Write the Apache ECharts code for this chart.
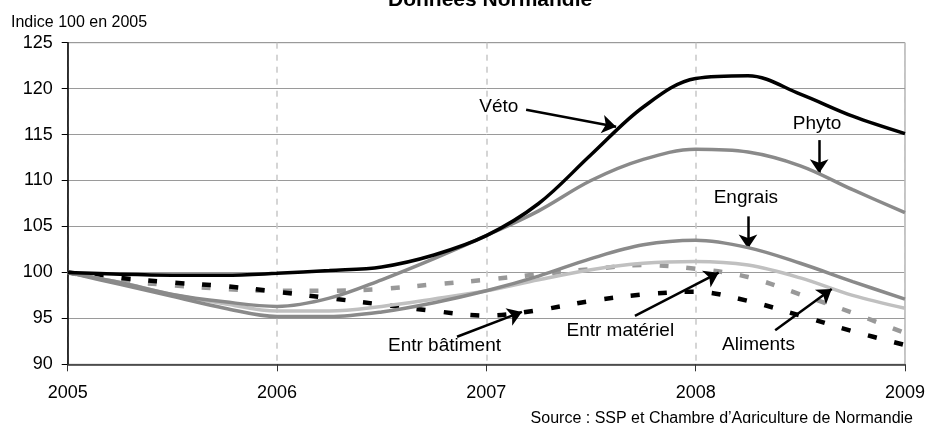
<!DOCTYPE html>
<html>
<head>
<meta charset="utf-8">
<script src="https://cdn.jsdelivr.net/npm/echarts@6/dist/echarts.min.js"></script>
<style>html,body{margin:0;padding:0;background:#fff;}#c{width:928px;height:423px;}</style>
</head>
<body>
<div id="c"></div>
<script>
// Quarterly points, 2005 to 2009 (index 100 in 2005)
var quarters = [2005, 2005.25, 2005.5, 2005.75, 2006, 2006.25, 2006.5, 2006.75, 2007, 2007.25, 2007.5, 2007.75, 2008, 2008.25, 2008.5, 2008.75, 2009];
var veto        = [100, 99.8, 99.7, 99.7, 99.9, 100.2, 100.6, 101.9, 104.0, 107.5, 112.8, 118.0, 121.1, 121.4, 119.4, 117.0, 115.1];
var phyto       = [100, 98.9, 97.6, 96.8, 96.3, 97.2, 99.2, 101.5, 104.0, 106.7, 110.0, 112.3, 113.4, 113.1, 111.6, 109.0, 106.5];
var engrais     = [100, 98.7, 97.4, 96.1, 95.2, 95.2, 95.7, 96.7, 98.0, 99.6, 101.5, 103.0, 103.5, 102.7, 101.0, 99.0, 97.1];
var aliments    = [100, 98.9, 97.6, 96.6, 95.8, 95.8, 96.3, 97.1, 98.0, 99.2, 100.3, 101.0, 101.2, 100.8, 99.4, 97.5, 96.1];
var entrMat     = [100, 99.1, 98.6, 98.2, 98.0, 98.0, 98.2, 98.7, 99.2, 99.8, 100.35, 100.8, 100.4, 99.5, 97.6, 95.6, 93.4];
var entrBat     = [100, 99.4, 98.9, 98.5, 97.9, 97.2, 96.5, 95.8, 95.3, 95.9, 96.9, 97.6, 97.9, 96.9, 95.3, 93.6, 92.1];
var yTicks = [90, 95, 100, 105, 110, 115, 120, 125];
var xTicks = [2005, 2006, 2007, 2008, 2009];

// Annotation labels and arrows (data units)
var annotations = [
  {text: 'Véto',          at: [2007.06, 118.0], from: [2007.19, 117.7], to: [2007.62, 115.85]},
  {text: 'Phyto',         at: [2008.58, 116.2], from: [2008.59, 114.4], to: [2008.59, 110.8]},
  {text: 'Engrais',       at: [2008.24, 108.1], from: [2008.25, 106.1], to: [2008.25, 102.6]},
  {text: 'Entr matériel', at: [2007.64, 93.7],  from: [2007.71, 95.26], to: [2008.11, 99.97]},
  {text: 'Aliments',      at: [2008.30, 92.1],  from: [2008.38, 93.7],  to: [2008.65, 98.2]},
  {text: 'Entr bâtiment', at: [2006.80, 92.0],  from: [2006.86, 93.0],  to: [2007.17, 95.7]}
];

function pairs(vals) { return quarters.map(function (q, i) { return [q, vals[i]]; }); }

var FONT = 'Liberation Sans, Arial, sans-serif';
function lineSeries(name, vals, color, width, dashed, z) {
  return {
    name: name, type: 'line', data: pairs(vals), smooth: 0.35, showSymbol: false, z: z,
    lineStyle: {color: color, width: width, type: dashed ? [9, 18] : 'solid', cap: 'butt'},
    emphasis: {disabled: true}
  };
}

var chart = echarts.init(document.getElementById('c'), null, {renderer: 'canvas'});
chart.setOption({
  animation: false,
  backgroundColor: '#fff',
  textStyle: {fontFamily: FONT},
  title: [
    {text: 'Données Normandie', left: 383, top: -15, textStyle: {fontFamily: FONT, fontSize: 21, fontWeight: 'bold', color: '#000'}},
    {text: 'Indice 100 en 2005', left: 6, top: 10, textStyle: {fontFamily: FONT, fontSize: 16, fontWeight: 'normal', color: '#000'}},
    {text: 'Source : SSP et Chambre d\u2019Agriculture de Normandie', right: 10, top: 406, textStyle: {fontFamily: FONT, fontSize: 16, fontWeight: 'normal', color: '#000'}}
  ],
  grid: {left: 67.7, right: 22.3, top: 42.7, bottom: 58.7, show: true, borderColor: '#8c8c8c', borderWidth: 1},
  xAxis: {
    type: 'value', min: xTicks[0], max: xTicks[xTicks.length - 1], interval: 1,
    axisLine: {show: true, lineStyle: {color: '#333', width: 1.5}},
    axisTick: {show: true, length: 7, lineStyle: {color: '#333'}},
    axisLabel: {fontSize: 18, color: '#000', margin: 20, fontFamily: FONT, formatter: function (v) { return String(v); }},
    splitLine: {show: true, lineStyle: {color: '#c8c8c8', type: [6, 6], width: 1.5}}
  },
  yAxis: {
    type: 'value', min: yTicks[0], max: yTicks[yTicks.length - 1], interval: 5,
    axisLine: {show: true, lineStyle: {color: '#000', width: 1.5}},
    axisTick: {show: true, length: 6, lineStyle: {color: '#000'}},
    axisLabel: {fontSize: 18, color: '#000', margin: 15, fontFamily: FONT},
    splitLine: {show: true, lineStyle: {color: '#9a9a9a', width: 1}}
  },
  series: [
    lineSeries('Entr matériel', entrMat, '#999999', 4.5, true, 2),
    lineSeries('Entr bâtiment', entrBat, '#000000', 4.5, true, 3),
    lineSeries('Aliments', aliments, '#c0c0c0', 3.5, false, 4),
    lineSeries('Engrais', engrais, '#8a8a8a', 3.5, false, 5),
    lineSeries('Phyto', phyto, '#8a8a8a', 3.5, false, 6),
    lineSeries('Véto', veto, '#000000', 3.5, false, 7),
    {
      name: 'annotations', type: 'line', data: [], z: 10, silent: true,
      markLine: {
        silent: true, animation: false,
        symbol: ['none', 'arrow'], symbolSize: 14,
        label: {show: false},
        lineStyle: {color: '#000', width: 2.5, type: 'solid'},
        data: annotations.map(function (a) { return [{coord: a.from}, {coord: a.to}]; })
      },
      markPoint: {
        silent: true, animation: false,
        symbol: 'circle', symbolSize: 0,
        itemStyle: {color: 'rgba(0,0,0,0)'},
        label: {show: true, position: 'inside', color: '#000', fontSize: 19, fontFamily: FONT},
        data: annotations.map(function (a) { return {coord: a.at, value: a.text, label: {formatter: a.text}}; })
      }
    }
  ]
});
</script>
</body>
</html>
